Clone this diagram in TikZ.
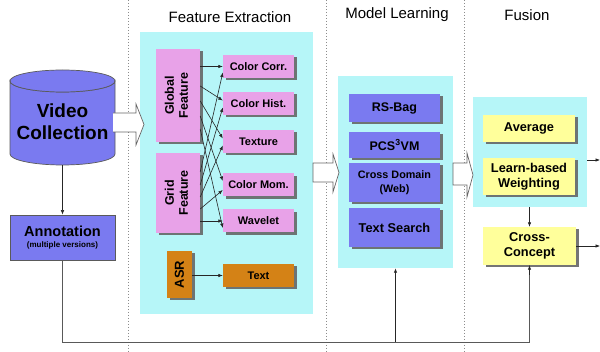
\documentclass[tikz,border=0pt]{standalone}
\usepackage{fontspec}
\setmainfont{Liberation Sans}
\usetikzlibrary{arrows.meta,shadows,calc}
\definecolor{bluebox}{RGB}{122,122,240}
\definecolor{pinkbox}{RGB}{232,162,232}
\definecolor{cyanbg}{RGB}{182,246,248}
\definecolor{yellowbox}{RGB}{255,255,155}
\definecolor{brownbox}{RGB}{212,130,22}
\definecolor{edgegray}{RGB}{90,90,90}
\begin{document}
\begin{tikzpicture}[x=1pt,y=-1pt,
  bg/.style={fill=cyanbg,draw=none},
  box/.style={inner sep=0pt,align=center,font=\bfseries,
     drop shadow={shadow xshift=2.5pt,shadow yshift=-2.5pt,fill=black!60,opacity=0.9}},
  pinkb/.style={box,fill=pinkbox,minimum width=71pt,minimum height=23pt,font=\bfseries\fontsize{11}{12}\selectfont},
  blueb/.style={box,fill=bluebox,minimum width=91pt},
  yellowb/.style={box,fill=yellowbox,minimum width=92pt,font=\bfseries\fontsize{12.8}{15}\selectfont},
  arr/.style={draw=black!85,line width=0.6pt,-{Latex[length=4.5pt,width=3.5pt]}},
  link/.style={draw=black!65,line width=0.8pt},
  sep/.style={draw=black!45,line width=0.8pt,dash pattern=on 1.5pt off 1.5pt},
  blk/.style={fill=white,draw=black!60,line width=0.7pt,line join=miter},
  title/.style={font=\fontsize{15}{17}\selectfont}]
\useasboundingbox (0,0) rectangle (600,352);

% separators
\draw[sep] (128,0) -- (128,352);
\draw[sep] (326,0) -- (326,352);
\draw[sep] (464,0) -- (464,352);

% titles
\node[title] (t1) at (230,17) {Feature Extraction};
\node[title] (t2) at (397,15) {Model Learning};
\node[title] (t3) at (527,15) {Fusion};

% backgrounds
\node[bg,minimum width=173pt,minimum height=282pt,inner sep=0pt] (fe) at (226.5,173) {};
\node[bg,minimum width=115pt,minimum height=192pt,inner sep=0pt] (ml) at (395.5,172) {};
\node[bg,minimum width=114pt,minimum height=110pt,inner sep=0pt] (fus) at (530,152) {};

% cylinder
\node[minimum width=105pt,minimum height=95pt,inner sep=0pt] (vc) at (62.5,117.5) {};
\draw[fill=bluebox,draw=edgegray,line width=0.7pt]
  (10,81) -- (10,154) arc[start angle=180,end angle=0,x radius=52.5,y radius=11]
  -- (115,81) arc[start angle=0,end angle=180,x radius=52.5,y radius=11] -- cycle;
\draw[fill=bluebox,draw=edgegray,line width=0.7pt] (62.5,81) ellipse[x radius=52.5,y radius=11];
\node[align=center,font=\bfseries\fontsize{19}{22}\selectfont] (vct) at (62.5,122) {Video\\Collection};

% annotation
\node[fill=bluebox,draw=edgegray,line width=0.7pt,minimum width=105pt,minimum height=45pt,
      inner sep=0pt,align=center] (ann) at (62.5,237.5)
  {{\bfseries\fontsize{14.5}{17}\selectfont Annotation}\\[-1pt]{\bfseries\fontsize{8}{10}\selectfont (multiple versions)}};
\draw[arr] (vc.south) -- (ann.north);

% feature extraction boxes
\node[box,fill=pinkbox,minimum width=44pt,minimum height=93pt] (gf) at (178,95.5)
  {\rotatebox{90}{\fontsize{12.5}{14}\selectfont\begin{tabular}{@{}c@{}}Global\\Feature\end{tabular}}};
\node[box,fill=pinkbox,minimum width=44pt,minimum height=80pt] (gr) at (178,193)
  {\rotatebox{90}{\fontsize{12.5}{14}\selectfont\begin{tabular}{@{}c@{}}Grid\\Feature\end{tabular}}};
\node[pinkb] (cc) at (258.5,66.5) {Color Corr.};
\node[pinkb] (ch) at (258.5,103.5) {Color Hist.};
\node[pinkb] (tx) at (258.5,141.5) {Texture};
\node[pinkb] (cm) at (258.5,185) {Color Mom.};
\node[pinkb] (wv) at (258.5,221) {Wavelet};
\node[box,fill=brownbox,minimum width=25pt,minimum height=47pt] (asr) at (179.5,274.5)
  {\rotatebox{90}{\fontsize{13}{14}\selectfont ASR}};
\node[pinkb,fill=brownbox] (txt) at (258.5,275.5) {Text};

% crossing arrows
\draw[arr] (gf.east |- cc.west) -- (cc.west);
\draw[arr] (gf.east |- 0,86) -- ([yshift=3pt]ch.west);
\draw[arr] (gf.east |- 0,101) -- ([yshift=3pt]tx.west);
\draw[arr] (gf.east |- 0,116) -- ([yshift=4pt]cm.west);
\draw[arr] (gf.east |- 0,129) -- ([yshift=-7pt]wv.west);
\draw[arr] (gr.east |- wv.west) -- (wv.west);
\draw[arr] (gr.east |- 0,209) -- ([yshift=-5pt]cm.west);
\draw[arr] (gr.east |- 0,197) -- ([yshift=-4pt]tx.west);
\draw[arr] (gr.east |- 0,185) -- ([yshift=-4pt]ch.west);
\draw[arr] (gr.east |- 0,172) -- ([yshift=-6pt]cc.west);
\draw[arr] (asr.east |- txt.west) -- (txt.west);

% model learning
\node[blueb,minimum height=28pt,font=\bfseries\fontsize{12.5}{14}\selectfont] (rs) at (394.5,108) {RS-Bag};
\node[blueb,minimum height=26pt,font=\bfseries\fontsize{12.5}{14}\selectfont] (pcs) at (394.5,145) {PCS\textsuperscript{3}VM};
\node[blueb,minimum height=39pt,font=\bfseries\fontsize{10.8}{13.5}\selectfont] (cd) at (394.5,182.5) {Cross Domain\\(Web)};
\node[blueb,minimum height=39pt,font=\bfseries\fontsize{12.8}{14}\selectfont] (ts) at (394.5,227.5) {Text Search};

% fusion
\node[yellowb,minimum height=27pt] (avg) at (529,128.5) {Average};
\node[yellowb,minimum height=37pt] (lbw) at (529,176.5) {Learn-based\\Weighting};
\node[yellowb,minimum height=38pt,minimum width=93pt] (xc) at (529.5,246) {Cross-\\Concept};
\draw[arr] (fus.south -| xc.north) -- (xc.north);
\coordinate (o1) at (600,160);
\coordinate (o2) at (600,246);
\draw[arr] (fus.east |- o1) -- (o1);
\draw[arr] (xc.east |- o2) -- (o2);

% bottom feedback line
\coordinate (bl) at (62.5,342);
\draw[link] (ann.south) -- (bl) -| (xc.south);
\draw[arr,line width=0.8pt] (xc.south |- 0,275) -- (xc.south);
\draw[arr,line width=0.8pt] (ml.south |- bl) -- (ml.south);

% block arrows
\draw[blk] (113,113) -- (136,113) -- (136,104) -- (144,124.5) -- (136,145) -- (136,132) -- (113,132);
\draw[blk] (313,163) -- (333,163) -- (333,154) -- (339,172.5) -- (333,192) -- (333,182) -- (313,182) -- cycle;
\draw[blk] (453,163) -- (467,163) -- (467,153) -- (473,175) -- (467,197) -- (467,185) -- (453,185) -- cycle;
\end{tikzpicture}
\end{document}
